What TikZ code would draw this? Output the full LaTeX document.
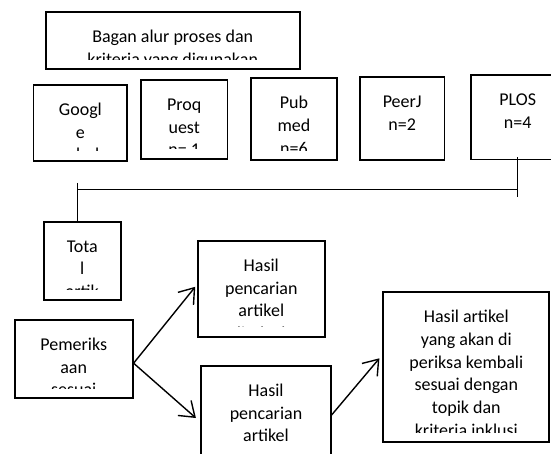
\documentclass[tikz,border=0pt]{standalone}
\usepackage{fontspec}
\setmainfont{Carlito}
\usetikzlibrary{arrows.meta}

\begin{document}
\begin{tikzpicture}[x=1pt, y=-1pt,
        isi/.style={inner sep=0pt, anchor=base, font=\fontsize{18pt}{22.7pt}\selectfont},
        kotak/.style={draw, line width=1.8pt, inner sep=0pt,
            path picture={
                \clip (path picture bounding box.north west) rectangle ([yshift=10pt]path picture bounding box.south east);
                \foreach \baris [count=\i] in {#1}
                    \node[isi] at ([yshift={-30.5pt-22.7pt*(\i-1)}]path picture bounding box.north) {\baris};
            }},
        garis/.style={line width=1pt},
        panah/.style={line width=1.4pt, -{Straight Barb[length=14pt, width=20pt]}}
    ]
    \clip (0,0) rectangle (551,454);

    % baris sumber data
    \node[kotak={Bagan alur proses dan,kriteria yang digunakan}, minimum width=254pt, minimum height=57pt] (judul) at (172.7,40.8) {};
    \node[kotak={Googl,e,schol}, minimum width=93.7pt, minimum height=75.7pt] (google) at (80.4,122.9) {};
    \node[kotak={Proq,uest,n= 1}, minimum width=86.7pt, minimum height=79pt] (proquest) at (184.2,119.5) {};
    \node[kotak={Pub,med,n=6}, minimum width=86pt, minimum height=82pt] (pubmed) at (294,119.3) {};
    \node[kotak={PeerJ,n=2}, minimum width=84.7pt, minimum height=83pt] (peerj) at (402.2,118.5) {};
    \node[kotak={PLOS,n=4}, minimum width=93.8pt, minimum height=84.5pt] (plos) at (517.7,117.3) {};

    % tahap penyaringan
    \node[kotak={Tota,l,artik}, minimum width=76.7pt, minimum height=78.3pt] (total) at (82.3,260.8) {};
    \node[kotak={Hasil,pencarian,artikel,ditelaah}, minimum width=127.3pt, minimum height=95.7pt] (hasil1) at (261.3,288.8) {};
    \node[kotak={Pemeriks,aan,sesuai}, minimum width=118pt, minimum height=78.3pt] (periksa) at (73.7,359.2) {};
    \node[kotak={Hasil,pencarian,artikel}, minimum width=129.4pt, minimum height=104pt] (hasil2) at (266,418) {};
    \node[kotak={Hasil artikel,yang akan di,periksa kembali,sesuai dengan,topik dan,kriteria inklusi}, minimum width=166pt, minimum height=150pt] (akhir) at (466.3,367.3) {};

    \coordinate (simpangKiri) at (77.7,190);
    \coordinate (simpangKanan) at (517.7,190);

    \draw[garis] ([yshift=3pt]plos.south) -- ([yshift=-7pt]simpangKanan);
    \draw[garis] (simpangKiri) -- (simpangKanan);
    \draw[garis] ([yshift=7pt]simpangKiri) -- (simpangKiri |- total.north);

    \draw[panah] ([yshift=-4pt]periksa.east) -- ([xshift=-1.5pt, yshift=2pt]hasil1.west);
    \draw[panah] ([yshift=-4pt]periksa.east) -- ([xshift=-4.5pt]hasil2.west);
    \draw[panah] ([yshift=3pt]hasil2.east) -- ([xshift=-3pt, yshift=9pt]akhir.west);
\end{tikzpicture}
\end{document}
